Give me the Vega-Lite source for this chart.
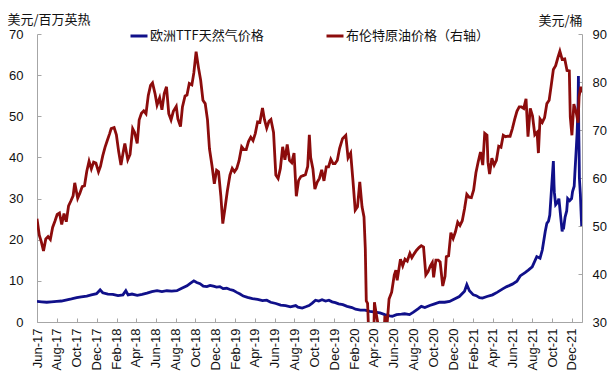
{
  "$schema": "https://vega.github.io/schema/vega-lite/v6.json",
  "width": 545,
  "height": 288,
  "autosize": {"type": "none"},
  "padding": {"left": 37, "top": 34, "right": 31, "bottom": 56},
  "background": "white",
  "config": {
    "view": {"stroke": null},
    "font": "Liberation Sans",
    "axis": {
      "grid": false,
      "domainColor": "#a6a6a6",
      "tickColor": "#a6a6a6",
      "labelColor": "#111111",
      "labelFontSize": 13,
      "labelFont": "Liberation Sans",
      "titleFont": "Noto Sans CJK SC",
      "titleFontSize": 13,
      "titleFontWeight": "normal",
      "titleColor": "#111111"
    },
    "legend": {
      "labelFont": "Noto Sans CJK SC",
      "labelFontSize": 13,
      "labelColor": "#111111"
    }
  },
  "datasets": {
    "gas": [
      {"d":"2017-06-01","v":5.0},{"d":"2017-06-15","v":4.9},{"d":"2017-07-01","v":4.8},{"d":"2017-07-15","v":4.9},
      {"d":"2017-08-01","v":5.0},{"d":"2017-08-15","v":5.1},{"d":"2017-09-01","v":5.4},{"d":"2017-09-15","v":5.6},
      {"d":"2017-10-01","v":5.9},{"d":"2017-10-15","v":6.1},{"d":"2017-11-01","v":6.3},{"d":"2017-11-15","v":6.6},
      {"d":"2017-12-01","v":6.9},{"d":"2017-12-12","v":7.8},{"d":"2017-12-20","v":7.1},{"d":"2018-01-05","v":6.8},
      {"d":"2018-01-20","v":6.7},{"d":"2018-02-05","v":6.4},{"d":"2018-02-20","v":6.6},{"d":"2018-03-01","v":7.6},
      {"d":"2018-03-08","v":6.6},{"d":"2018-03-20","v":6.8},{"d":"2018-04-05","v":6.5},{"d":"2018-04-20","v":6.7},
      {"d":"2018-05-05","v":7.0},{"d":"2018-05-20","v":7.4},{"d":"2018-06-05","v":7.6},{"d":"2018-06-20","v":7.4},
      {"d":"2018-07-05","v":7.6},{"d":"2018-07-20","v":7.5},{"d":"2018-08-05","v":7.6},{"d":"2018-08-20","v":8.2},
      {"d":"2018-09-05","v":8.8},{"d":"2018-09-15","v":9.4},{"d":"2018-09-26","v":10.0},{"d":"2018-10-05","v":9.6},
      {"d":"2018-10-15","v":9.3},{"d":"2018-10-25","v":8.7},{"d":"2018-11-05","v":8.6},{"d":"2018-11-15","v":8.9},
      {"d":"2018-11-25","v":8.7},{"d":"2018-12-05","v":8.5},{"d":"2018-12-15","v":8.6},{"d":"2018-12-25","v":8.1},
      {"d":"2019-01-05","v":8.2},{"d":"2019-01-15","v":7.9},{"d":"2019-01-25","v":7.7},{"d":"2019-02-05","v":7.2},
      {"d":"2019-02-15","v":6.8},{"d":"2019-02-25","v":6.3},{"d":"2019-03-10","v":6.0},{"d":"2019-03-25","v":5.7},
      {"d":"2019-04-10","v":5.5},{"d":"2019-04-25","v":5.2},{"d":"2019-05-08","v":5.3},{"d":"2019-05-20","v":4.8},
      {"d":"2019-06-05","v":4.5},{"d":"2019-06-20","v":4.1},{"d":"2019-07-05","v":4.0},{"d":"2019-07-20","v":3.7},
      {"d":"2019-08-05","v":4.0},{"d":"2019-08-12","v":3.6},{"d":"2019-08-25","v":3.4},{"d":"2019-09-05","v":3.7},
      {"d":"2019-09-15","v":4.0},{"d":"2019-09-25","v":4.6},{"d":"2019-10-05","v":5.3},{"d":"2019-10-15","v":5.1},
      {"d":"2019-10-25","v":5.4},{"d":"2019-11-05","v":5.1},{"d":"2019-11-15","v":5.3},{"d":"2019-11-25","v":4.9},
      {"d":"2019-12-05","v":4.7},{"d":"2019-12-15","v":4.4},{"d":"2019-12-28","v":4.2},{"d":"2020-01-10","v":3.8},
      {"d":"2020-01-25","v":3.5},{"d":"2020-02-05","v":3.1},{"d":"2020-02-20","v":2.9},{"d":"2020-03-05","v":2.9},
      {"d":"2020-03-20","v":2.6},{"d":"2020-04-05","v":2.4},{"d":"2020-04-20","v":2.2},{"d":"2020-05-05","v":1.8},
      {"d":"2020-05-20","v":1.5},{"d":"2020-05-28","v":1.4},{"d":"2020-06-10","v":1.8},{"d":"2020-06-25","v":1.9},
      {"d":"2020-07-05","v":2.0},{"d":"2020-07-20","v":1.8},{"d":"2020-08-01","v":2.4},{"d":"2020-08-15","v":3.2},
      {"d":"2020-08-25","v":3.8},{"d":"2020-09-05","v":3.5},{"d":"2020-09-20","v":4.0},{"d":"2020-10-05","v":4.4},
      {"d":"2020-10-20","v":4.8},{"d":"2020-11-05","v":4.8},{"d":"2020-11-20","v":5.0},{"d":"2020-12-05","v":5.6},
      {"d":"2020-12-20","v":6.2},{"d":"2021-01-05","v":7.5},{"d":"2021-01-12","v":9.1},{"d":"2021-01-20","v":7.6},
      {"d":"2021-02-01","v":6.6},{"d":"2021-02-10","v":6.4},{"d":"2021-02-20","v":5.9},{"d":"2021-03-01","v":5.8},
      {"d":"2021-03-15","v":6.2},{"d":"2021-04-01","v":6.6},{"d":"2021-04-15","v":7.2},{"d":"2021-05-01","v":8.0},
      {"d":"2021-05-15","v":8.6},{"d":"2021-06-01","v":9.2},{"d":"2021-06-15","v":9.9},{"d":"2021-06-25","v":11.2},
      {"d":"2021-07-10","v":12.0},{"d":"2021-07-20","v":12.6},{"d":"2021-08-01","v":13.4},{"d":"2021-08-15","v":15.9},
      {"d":"2021-08-25","v":15.5},{"d":"2021-09-01","v":17.5},{"d":"2021-09-10","v":22.0},{"d":"2021-09-15","v":24.0},
      {"d":"2021-09-20","v":24.5},{"d":"2021-09-24","v":26.0},{"d":"2021-09-29","v":32.0},{"d":"2021-10-05","v":39.1},
      {"d":"2021-10-07","v":33.5},{"d":"2021-10-08","v":31.5},{"d":"2021-10-12","v":28.5},{"d":"2021-10-15","v":28.8},
      {"d":"2021-10-20","v":29.5},{"d":"2021-10-22","v":30.0},{"d":"2021-10-27","v":26.0},{"d":"2021-11-01","v":22.0},
      {"d":"2021-11-03","v":23.4},{"d":"2021-11-05","v":22.5},{"d":"2021-11-10","v":25.5},{"d":"2021-11-15","v":27.0},
      {"d":"2021-11-18","v":30.0},{"d":"2021-11-24","v":29.5},{"d":"2021-11-30","v":30.0},{"d":"2021-12-03","v":31.7},
      {"d":"2021-12-08","v":33.0},{"d":"2021-12-10","v":36.0},{"d":"2021-12-15","v":43.0},{"d":"2021-12-17","v":46.0},
      {"d":"2021-12-20","v":53.0},{"d":"2021-12-21","v":59.8},{"d":"2021-12-22","v":47.0},{"d":"2021-12-23","v":42.0},
      {"d":"2021-12-24","v":35.0},{"d":"2021-12-27","v":31.0},{"d":"2021-12-29","v":27.0},{"d":"2021-12-31","v":23.3}
    ],
    "oil": [
      {"d":"2017-06-01","v":51.5},{"d":"2017-06-08","v":48.1},{"d":"2017-06-14","v":46.8},{"d":"2017-06-21","v":44.8},
      {"d":"2017-06-28","v":47.3},{"d":"2017-07-05","v":47.8},{"d":"2017-07-12","v":47.2},{"d":"2017-07-19","v":49.7},
      {"d":"2017-07-26","v":51.0},{"d":"2017-08-02","v":52.4},{"d":"2017-08-09","v":52.7},{"d":"2017-08-16","v":50.3},
      {"d":"2017-08-23","v":52.6},{"d":"2017-08-30","v":50.9},{"d":"2017-09-06","v":54.2},{"d":"2017-09-13","v":55.2},
      {"d":"2017-09-20","v":56.3},{"d":"2017-09-25","v":59.0},{"d":"2017-10-04","v":55.8},{"d":"2017-10-11","v":56.9},
      {"d":"2017-10-18","v":58.2},{"d":"2017-10-25","v":58.4},{"d":"2017-11-01","v":61.4},{"d":"2017-11-08","v":63.5},
      {"d":"2017-11-15","v":61.9},{"d":"2017-11-22","v":63.3},{"d":"2017-11-29","v":63.1},{"d":"2017-12-07","v":61.3},
      {"d":"2017-12-13","v":62.4},{"d":"2017-12-20","v":64.6},{"d":"2017-12-27","v":66.4},{"d":"2018-01-03","v":67.8},
      {"d":"2018-01-10","v":69.2},{"d":"2018-01-15","v":70.3},{"d":"2018-01-24","v":70.5},{"d":"2018-01-31","v":69.0},
      {"d":"2018-02-07","v":65.5},{"d":"2018-02-14","v":62.7},{"d":"2018-02-21","v":65.4},{"d":"2018-02-26","v":67.2},
      {"d":"2018-03-07","v":63.8},{"d":"2018-03-14","v":64.9},{"d":"2018-03-22","v":70.3},{"d":"2018-03-28","v":69.5},
      {"d":"2018-04-05","v":67.2},{"d":"2018-04-11","v":72.1},{"d":"2018-04-18","v":73.5},{"d":"2018-04-25","v":74.0},
      {"d":"2018-05-02","v":73.4},{"d":"2018-05-09","v":77.2},{"d":"2018-05-16","v":79.3},{"d":"2018-05-22","v":79.8},
      {"d":"2018-05-30","v":77.5},{"d":"2018-06-05","v":75.2},{"d":"2018-06-13","v":76.7},{"d":"2018-06-20","v":74.2},
      {"d":"2018-06-27","v":77.6},{"d":"2018-07-04","v":79.0},{"d":"2018-07-11","v":73.4},{"d":"2018-07-18","v":72.1},
      {"d":"2018-07-25","v":73.9},{"d":"2018-08-03","v":74.9},{"d":"2018-08-08","v":72.3},{"d":"2018-08-16","v":70.7},
      {"d":"2018-08-22","v":74.8},{"d":"2018-08-30","v":77.1},{"d":"2018-09-05","v":77.3},{"d":"2018-09-12","v":79.7},
      {"d":"2018-09-20","v":79.4},{"d":"2018-09-26","v":81.9},{"d":"2018-10-03","v":86.3},{"d":"2018-10-10","v":83.1},
      {"d":"2018-10-17","v":80.4},{"d":"2018-10-24","v":76.2},{"d":"2018-10-31","v":75.5},{"d":"2018-11-07","v":72.1},
      {"d":"2018-11-13","v":66.1},{"d":"2018-11-21","v":62.5},{"d":"2018-11-28","v":58.8},{"d":"2018-12-05","v":61.6},
      {"d":"2018-12-11","v":61.3},{"d":"2018-12-18","v":56.3},{"d":"2018-12-24","v":50.5},{"d":"2018-12-31","v":53.8},
      {"d":"2019-01-07","v":57.3},{"d":"2019-01-15","v":60.6},{"d":"2019-01-22","v":62.0},{"d":"2019-01-29","v":61.3},
      {"d":"2019-02-05","v":62.0},{"d":"2019-02-12","v":63.6},{"d":"2019-02-20","v":66.5},{"d":"2019-02-27","v":65.9},
      {"d":"2019-03-06","v":65.9},{"d":"2019-03-13","v":67.6},{"d":"2019-03-20","v":68.5},{"d":"2019-03-27","v":67.8},
      {"d":"2019-04-03","v":69.3},{"d":"2019-04-10","v":71.7},{"d":"2019-04-17","v":71.6},{"d":"2019-04-25","v":74.6},
      {"d":"2019-05-01","v":72.2},{"d":"2019-05-08","v":70.4},{"d":"2019-05-15","v":71.8},{"d":"2019-05-21","v":72.2},
      {"d":"2019-05-29","v":69.5},{"d":"2019-06-05","v":60.6},{"d":"2019-06-12","v":59.9},{"d":"2019-06-19","v":62.0},
      {"d":"2019-06-26","v":66.5},{"d":"2019-07-03","v":63.8},{"d":"2019-07-10","v":67.0},{"d":"2019-07-17","v":63.7},
      {"d":"2019-07-24","v":63.2},{"d":"2019-07-31","v":65.2},{"d":"2019-08-07","v":56.2},{"d":"2019-08-14","v":59.5},
      {"d":"2019-08-21","v":60.3},{"d":"2019-08-28","v":60.5},{"d":"2019-09-04","v":60.7},{"d":"2019-09-11","v":62.4},
      {"d":"2019-09-16","v":69.0},{"d":"2019-09-20","v":64.3},{"d":"2019-09-27","v":61.9},{"d":"2019-10-03","v":57.7},
      {"d":"2019-10-10","v":59.1},{"d":"2019-10-17","v":59.9},{"d":"2019-10-24","v":61.7},{"d":"2019-10-31","v":59.4},
      {"d":"2019-11-07","v":62.3},{"d":"2019-11-14","v":62.3},{"d":"2019-11-21","v":63.9},{"d":"2019-11-28","v":63.0},
      {"d":"2019-12-04","v":63.0},{"d":"2019-12-11","v":63.7},{"d":"2019-12-18","v":66.2},{"d":"2019-12-27","v":68.2},
      {"d":"2020-01-06","v":68.9},{"d":"2020-01-13","v":64.2},{"d":"2020-01-21","v":65.2},{"d":"2020-01-28","v":59.5},
      {"d":"2020-02-04","v":53.3},{"d":"2020-02-11","v":54.0},{"d":"2020-02-18","v":59.2},{"d":"2020-02-25","v":54.0},
      {"d":"2020-03-02","v":51.9},{"d":"2020-03-06","v":45.3},{"d":"2020-03-09","v":34.4},{"d":"2020-03-13","v":33.9},
      {"d":"2020-03-18","v":24.9},{"d":"2020-03-23","v":27.0},{"d":"2020-03-31","v":22.7},{"d":"2020-04-03","v":34.1},
      {"d":"2020-04-09","v":31.5},{"d":"2020-04-14","v":29.6},{"d":"2020-04-21","v":19.3},{"d":"2020-04-28","v":20.5},
      {"d":"2020-05-05","v":31.0},{"d":"2020-05-08","v":30.9},{"d":"2020-05-12","v":29.6},{"d":"2020-05-18","v":34.8},
      {"d":"2020-05-26","v":36.2},{"d":"2020-06-03","v":39.8},{"d":"2020-06-08","v":40.8},{"d":"2020-06-12","v":38.7},
      {"d":"2020-06-22","v":43.1},{"d":"2020-06-29","v":41.7},{"d":"2020-07-06","v":43.1},{"d":"2020-07-13","v":42.7},
      {"d":"2020-07-21","v":44.3},{"d":"2020-07-27","v":43.4},{"d":"2020-08-03","v":44.2},{"d":"2020-08-10","v":44.9},
      {"d":"2020-08-18","v":45.5},{"d":"2020-08-25","v":45.9},{"d":"2020-09-01","v":45.6},{"d":"2020-09-08","v":39.8},
      {"d":"2020-09-15","v":40.5},{"d":"2020-09-22","v":41.7},{"d":"2020-09-28","v":42.4},{"d":"2020-10-02","v":39.3},
      {"d":"2020-10-09","v":42.9},{"d":"2020-10-16","v":42.9},{"d":"2020-10-22","v":42.5},{"d":"2020-10-30","v":37.5},
      {"d":"2020-11-06","v":39.5},{"d":"2020-11-10","v":43.6},{"d":"2020-11-17","v":43.8},{"d":"2020-11-24","v":48.6},
      {"d":"2020-12-01","v":47.4},{"d":"2020-12-08","v":48.8},{"d":"2020-12-15","v":50.8},{"d":"2020-12-22","v":50.1},
      {"d":"2020-12-29","v":51.1},{"d":"2021-01-05","v":53.6},{"d":"2021-01-12","v":56.6},{"d":"2021-01-19","v":56.0},
      {"d":"2021-01-26","v":55.9},{"d":"2021-02-02","v":57.5},{"d":"2021-02-09","v":61.1},{"d":"2021-02-16","v":63.4},
      {"d":"2021-02-23","v":65.4},{"d":"2021-03-02","v":62.7},{"d":"2021-03-08","v":69.3},{"d":"2021-03-15","v":68.9},
      {"d":"2021-03-18","v":63.3},{"d":"2021-03-23","v":60.8},{"d":"2021-03-30","v":64.1},{"d":"2021-04-06","v":62.7},
      {"d":"2021-04-13","v":63.7},{"d":"2021-04-20","v":66.6},{"d":"2021-04-27","v":66.4},{"d":"2021-05-04","v":68.9},
      {"d":"2021-05-11","v":68.6},{"d":"2021-05-18","v":68.7},{"d":"2021-05-25","v":68.7},{"d":"2021-06-01","v":70.3},
      {"d":"2021-06-08","v":72.2},{"d":"2021-06-15","v":73.9},{"d":"2021-06-22","v":74.8},{"d":"2021-06-29","v":74.8},
      {"d":"2021-07-06","v":74.5},{"d":"2021-07-13","v":76.5},{"d":"2021-07-19","v":68.6},{"d":"2021-07-26","v":74.5},
      {"d":"2021-08-02","v":72.9},{"d":"2021-08-09","v":69.0},{"d":"2021-08-16","v":69.5},{"d":"2021-08-20","v":65.2},
      {"d":"2021-08-25","v":72.3},{"d":"2021-09-01","v":71.6},{"d":"2021-09-08","v":72.6},{"d":"2021-09-15","v":75.5},
      {"d":"2021-09-22","v":76.2},{"d":"2021-09-28","v":79.1},{"d":"2021-10-05","v":82.6},{"d":"2021-10-12","v":83.4},
      {"d":"2021-10-19","v":85.1},{"d":"2021-10-25","v":86.4},{"d":"2021-11-01","v":84.7},{"d":"2021-11-09","v":84.8},
      {"d":"2021-11-16","v":82.4},{"d":"2021-11-23","v":82.3},{"d":"2021-11-26","v":72.7},{"d":"2021-12-01","v":68.9},
      {"d":"2021-12-07","v":75.4},{"d":"2021-12-14","v":73.7},{"d":"2021-12-20","v":71.5},{"d":"2021-12-23","v":76.9},
      {"d":"2021-12-28","v":79.0},{"d":"2021-12-31","v":77.8}
    ]
  },
  "encoding": {
    "x": {
      "field": "d", "type": "temporal",
      "scale": {"type": "utc", "domain": [{"year": 2017, "month": 6, "date": 1, "utc": true}, {"year": 2022, "month": 1, "date": 1, "utc": true}]},
      "axis": {
        "title": null,
        "labelExpr": "utcFormat(datum.value, '%b-%y')",
        "labelAngle": 270,
        "labelOverlap": false,
        "tickSize": -4,
        "labelPadding": 10,
        "labelFontSize": 13,
        "values": [
          {"year":2017,"month":6,"date":1,"utc":true},{"year":2017,"month":8,"date":1,"utc":true},{"year":2017,"month":10,"date":1,"utc":true},{"year":2017,"month":12,"date":1,"utc":true},
          {"year":2018,"month":2,"date":1,"utc":true},{"year":2018,"month":4,"date":1,"utc":true},{"year":2018,"month":6,"date":1,"utc":true},{"year":2018,"month":8,"date":1,"utc":true},
          {"year":2018,"month":10,"date":1,"utc":true},{"year":2018,"month":12,"date":1,"utc":true},{"year":2019,"month":2,"date":1,"utc":true},{"year":2019,"month":4,"date":1,"utc":true},
          {"year":2019,"month":6,"date":1,"utc":true},{"year":2019,"month":8,"date":1,"utc":true},{"year":2019,"month":10,"date":1,"utc":true},{"year":2019,"month":12,"date":1,"utc":true},
          {"year":2020,"month":2,"date":1,"utc":true},{"year":2020,"month":4,"date":1,"utc":true},{"year":2020,"month":6,"date":1,"utc":true},{"year":2020,"month":8,"date":1,"utc":true},
          {"year":2020,"month":10,"date":1,"utc":true},{"year":2020,"month":12,"date":1,"utc":true},{"year":2021,"month":2,"date":1,"utc":true},{"year":2021,"month":4,"date":1,"utc":true},
          {"year":2021,"month":6,"date":1,"utc":true},{"year":2021,"month":8,"date":1,"utc":true},{"year":2021,"month":10,"date":1,"utc":true},{"year":2021,"month":12,"date":1,"utc":true}
        ]
      }
    }
  },
  "layer": [
    {
      "data": {"name": "gas"},
      "mark": {"type": "line", "strokeWidth": 2.8, "clip": true},
      "encoding": {
        "y": {
          "field": "v", "type": "quantitative",
          "scale": {"domain": [0, 70], "nice": false, "zero": false},
          "axis": {
            "orient": "left",
            "values": [0, 10, 20, 30, 40, 50, 60, 70],
            "tickSize": -4,
            "labelPadding": 18,
            "title": "美元/百万英热",
            "titleAngle": 0,
            "titleAlign": "left",
            "titleBaseline": "alphabetic",
            "titleX": -30,
            "titleY": -11
          }
        },
        "color": {
          "datum": "欧洲TTF天然气价格",
          "scale": {"domain": ["欧洲TTF天然气价格", "布伦特原油价格（右轴）"], "range": ["#10108a", "#8c0c0c"]},
          "legend": {
            "title": null,
            "orient": "none",
            "direction": "horizontal",
            "legendX": 92,
            "legendY": -8,
            "symbolType": "stroke",
            "symbolSize": 289,
            "symbolStrokeWidth": 3,
            "labelOffset": 1,
            "columnPadding": 56,
            "padding": 0
          }
        }
      }
    },
    {
      "data": {"name": "oil"},
      "mark": {"type": "line", "strokeWidth": 2.8, "clip": true},
      "encoding": {
        "y": {
          "field": "v", "type": "quantitative",
          "scale": {"domain": [30, 90], "nice": false, "zero": false},
          "axis": {
            "orient": "right",
            "values": [30, 40, 50, 60, 70, 80, 90],
            "tickSize": -4,
            "labelPadding": 14,
            "title": "美元/桶",
            "titleAngle": 0,
            "titleAlign": "right",
            "titleBaseline": "alphabetic",
            "titleX": 0,
            "titleY": -10
          }
        },
        "color": {"datum": "布伦特原油价格（右轴）"}
      }
    }
  ],
  "resolve": {"scale": {"y": "independent"}, "axis": {"y": "independent"}}
}
